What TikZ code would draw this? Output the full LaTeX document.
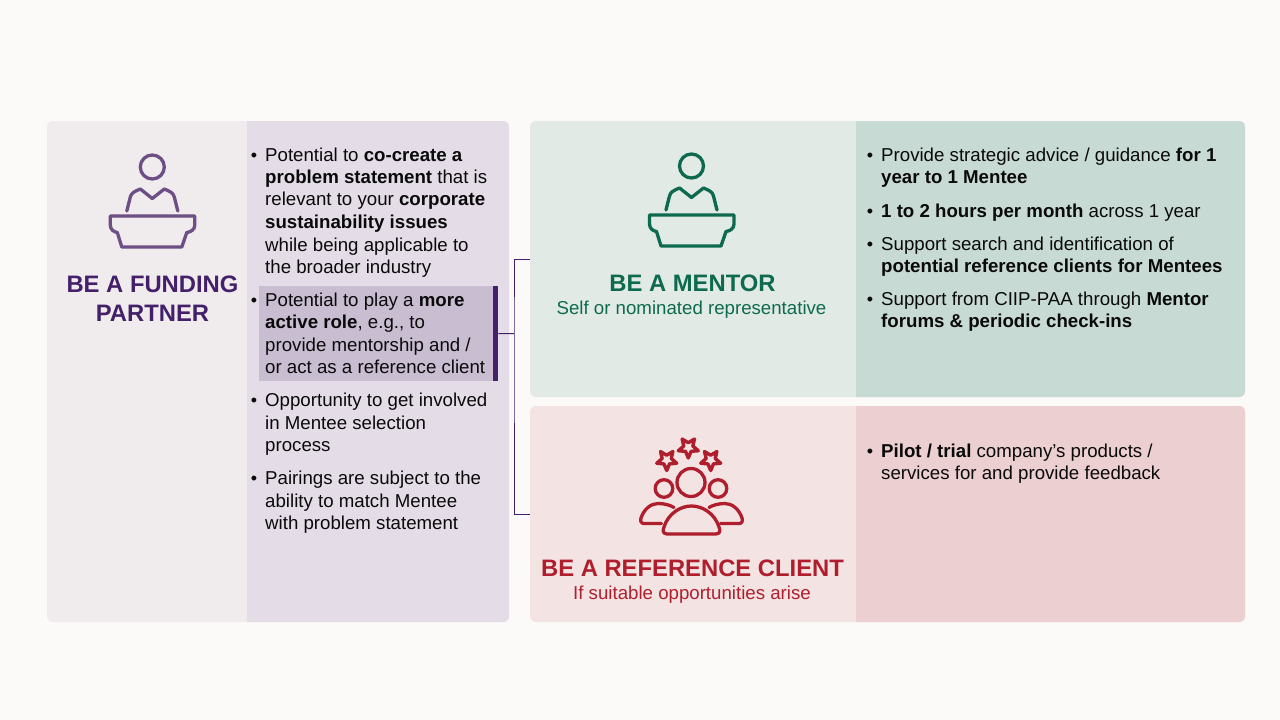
\documentclass[tikz,border=0pt]{standalone}
\usepackage{fontspec}
\setmainfont{Liberation Sans}
\usetikzlibrary{shapes.geometric}
\definecolor{bgc}{HTML}{FBFAF8}
\definecolor{plight}{HTML}{F0ECEE}
\definecolor{pmid}{HTML}{E4DDE7}
\definecolor{phigh}{HTML}{C9BDD2}
\definecolor{pdark}{HTML}{44206A}
\definecolor{picon}{HTML}{6D4F85}
\definecolor{glight}{HTML}{E2EAE6}
\definecolor{gmid}{HTML}{C8DAD4}
\definecolor{gdark}{HTML}{0E6A4E}
\definecolor{rlight}{HTML}{F4E3E3}
\definecolor{rmid}{HTML}{ECCFD0}
\definecolor{rdark}{HTML}{AF1E2D}
\definecolor{inkc}{HTML}{0A0A0A}
\tikzset{
  x=1pt,y=-1pt,
  panel/.style={anchor=north west,inner sep=0pt,outer sep=0pt,rounded corners=6pt},
  bodytext/.style={anchor=base west,inner sep=0pt,text=inkc,font=\fontsize{18.67}{22}\selectfont},
  bulletmark/.style={anchor=base,inner sep=0pt,text=inkc,font=\fontsize{18}{22}\selectfont},
  headtext/.style={anchor=base,inner sep=0pt,font=\fontsize{23.8}{28}\selectfont\bfseries},
  subtext/.style={anchor=base,inner sep=0pt,font=\fontsize{18.67}{22}\selectfont},
  iconline/.style={line width=3.3pt,line cap=round,line join=round},
  staricon/.style={star,star points=5,star point ratio=2.2,shape border rotate=180,draw=rdark,line width=3.4pt,line join=round,inner sep=0pt,minimum size=21pt},
  pics/podium/.style={code={
    \draw[iconline,draw=#1] (0,-1) circle[radius=12];
    \draw[iconline,draw=#1] (-25.5,43) -- (-22,29) .. controls (-21,25) and (-18,23.5) .. (-12,21) -- (0,30.5) -- (12,21) .. controls (18,23.5) and (21,25) .. (22,29) -- (25.5,43);
    \draw[iconline,draw=#1] (-42,48) -- (42.5,48) -- (42.5,57) .. controls (42.5,62) and (38,64) .. (34.5,64.5) -- (29.5,79) -- (-30.5,79) -- (-35,64.5) .. controls (-38,64) and (-42,62) .. (-42,57) -- cycle;
  }}
}
\newcommand{\tline}[3]{\node[bodytext] (#1) at (#2) {#3};}
\newcommand{\tbul}[2]{\node[bulletmark] (#1) at (#2) {•};}
\newcommand{\rightfill}[5]{\fill[#1] (#2,#3) -- (#4-6,#3) .. controls (#4-2.5,#3) and (#4,#3+2.5) .. (#4,#3+6) -- (#4,#5-6) .. controls (#4,#5-2.5) and (#4-2.5,#5) .. (#4-6,#5) -- (#2,#5) -- cycle;}
\begin{document}
\begin{tikzpicture}
\useasboundingbox (0,0) rectangle (1280,720);
\fill[bgc] (0,0) rectangle (1280,720);
% panels
\node[panel,fill=plight,minimum width=462pt,minimum height=501pt] (fund) at (47,121) {};
\rightfill{pmid}{247}{121}{509}{622}
\node[panel,fill=glight,minimum width=715pt,minimum height=276pt] (mentor) at (530,121) {};
\rightfill{gmid}{856}{121}{1245}{397}
\node[panel,fill=rlight,minimum width=715pt,minimum height=216pt] (client) at (530,406) {};
\rightfill{rmid}{856}{406}{1245}{622}
% highlight
\node[anchor=north west,fill=phigh,inner sep=0pt,minimum width=234pt,minimum height=95pt] (high) at (259,286) {};
\node[anchor=north west,fill=pdark,inner sep=0pt,minimum width=5pt,minimum height=95pt] (bar) at (493,286) {};
% connectors
\coordinate (spine) at (514,333.5);
\draw[pdark,line width=1pt] (bar.east) -- (spine);
\draw[pdark,line width=1pt] (mentor.west) -| (spine) |- (client.west);
% icons
\pic at (152.3,168) {podium=picon};
\pic at (691.5,167) {podium=gdark};
\draw[iconline,draw=rdark] (691,482.5) circle[radius=14];
\draw[iconline,draw=rdark] (664,488.5) circle[radius=8.8];
\draw[iconline,draw=rdark] (718,488.5) circle[radius=8.8];
\draw[iconline,draw=rdark] (667,534) .. controls (662,533.5) and (663,530) .. (664,527) .. controls (668,514) and (680,506) .. (691.5,506) .. controls (703,506) and (715,514) .. (719,527) .. controls (720,530) and (721,533.5) .. (716,534) -- cycle;
\draw[iconline,draw=rdark] (661.5,523.5) -- (644,523.5) .. controls (641,523.5) and (640,521) .. (641,518) .. controls (644,509) and (651,503.5) .. (658,503.5) .. controls (664,503.5) and (670,505) .. (674,507.5);
\draw[iconline,draw=rdark] (720.5,523.5) -- (739,523.5) .. controls (742,523.5) and (743,521) .. (742,518) .. controls (739,509) and (732,503.5) .. (725,503.5) .. controls (719,503.5) and (713,505) .. (709,507.5);
\node[staricon] (star1) at (688.3,447.5) {};
\node[staricon] (star2) at (666.7,460) {};
\node[staricon] (star3) at (710.7,460) {};
% titles
\node[headtext,text=pdark] (t1a) at (152.5,292) {BE A FUNDING};
\node[headtext,text=pdark] (t1b) at (152.5,321) {PARTNER};
\node[headtext,text=gdark] (t2a) at (692.5,291) {BE A MENTOR};
\node[subtext,text=gdark] (t2b) at (691.5,314.5) {Self or nominated representative};
\node[headtext,text=rdark] (t3a) at (692.5,576) {BE A REFERENCE CLIENT};
\node[subtext,text=rdark] (t3b) at (692,599.5) {If suitable opportunities arise};
% left text
\tbul{ba}{254,161}
\tline{la}{265,161}{Potential to \textbf{co-create a}}
\tline{lb}{265,183.5}{\textbf{problem statement} that is}
\tline{lc}{265,205.5}{relevant to your \textbf{corporate}}
\tline{ld}{265,228}{\textbf{sustainability issues}}
\tline{le}{265,251}{while being applicable to}
\tline{lf}{265,273}{the broader industry}
\tbul{bb}{254,306}
\tline{lg}{265,306}{Potential to play a \textbf{more}}
\tline{lh}{265,328.5}{\textbf{active role}, e.g., to}
\tline{li}{265,351}{provide mentorship and /}
\tline{lj}{265,373}{or act as a reference client}
\tbul{bc}{254,406}
\tline{lk}{265,406}{Opportunity to get involved}
\tline{ll}{265,429}{in Mentee selection}
\tline{lm}{265,451}{process}
\tbul{bd}{254,484}
\tline{ln}{265,484}{Pairings are subject to the}
\tline{lo}{265,507}{ability to match Mentee}
\tline{lp}{265,529}{with problem statement}
% right text
\tbul{be}{870,161}
\tline{ra}{881,161}{Provide strategic advice / guidance \textbf{for 1}}
\tline{rb}{881,183.5}{\textbf{year to 1 Mentee}}
\tbul{bf}{870,217}
\tline{rc}{881,217}{\textbf{1 to 2 hours per month} across 1 year}
\tbul{bg}{870,250}
\tline{rd}{881,250}{Support search and identification of}
\tline{re}{881,272}{\textbf{potential reference clients for Mentees}}
\tbul{bh}{870,305}
\tline{rf}{881,305}{Support from CIIP-PAA through \textbf{Mentor}}
\tline{rg}{881,327}{\textbf{forums \& periodic check-ins}}
\tbul{bi}{870,457}
\tline{rh}{881,457}{\textbf{Pilot / trial} company’s products /}
\tline{ri}{881,479}{services for and provide feedback}
\end{tikzpicture}
\end{document}
